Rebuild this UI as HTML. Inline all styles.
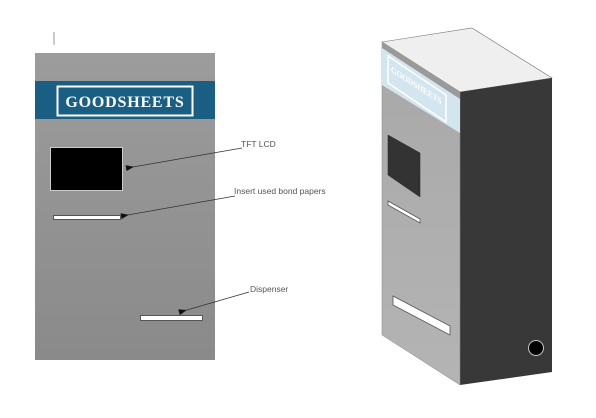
<!DOCTYPE html>
<html><head><meta charset="utf-8"><style>
html,body{margin:0;padding:0;background:#fff;width:596px;height:418px;overflow:hidden}
svg{display:block}
</style></head><body>
<svg width="596" height="418" viewBox="0 0 596 418" xmlns="http://www.w3.org/2000/svg">
<defs>
<linearGradient id="pg" x1="0" y1="0" x2="0" y2="1">
<stop offset="0" stop-color="#9c9c9c"/><stop offset="1" stop-color="#8a8a8a"/></linearGradient>
<linearGradient id="fg" x1="0" y1="0" x2="0" y2="1">
<stop offset="0" stop-color="#a8a8a8"/><stop offset="1" stop-color="#b4b4b4"/></linearGradient>
<marker id="ah" markerWidth="8" markerHeight="6" refX="7" refY="3" orient="auto-start-reverse" markerUnits="userSpaceOnUse">
<path d="M8,0 L0,3 L8,6 z" fill="#111"/></marker>
</defs>
<line x1="54" y1="32" x2="54" y2="45" stroke="#999" stroke-width="1"/>
<rect x="35" y="53" width="180" height="307" fill="url(#pg)"/>
<rect x="35" y="81" width="180" height="38" fill="#1b5e84"/>
<rect x="57.5" y="86.5" width="135" height="29" fill="none" stroke="#fff" stroke-width="2"/>
<text x="125" y="107" text-anchor="middle" font-family="Liberation Serif, serif" font-weight="bold" font-size="16" fill="#fff" letter-spacing="0.8">GOODSHEETS</text>
<rect x="50.5" y="147.5" width="72" height="43" fill="#000" stroke="#ccc" stroke-width="1"/>
<rect x="53.5" y="215.5" width="67" height="4" fill="#fff" stroke="#555" stroke-width="1"/>
<rect x="140.5" y="315.5" width="62" height="5" fill="#fff" stroke="#555" stroke-width="1"/>
<g stroke="#333" stroke-width="0.8" fill="none">
<line x1="242" y1="148" x2="127" y2="168" marker-end="url(#ah)"/>
<line x1="235" y1="196" x2="122" y2="216" marker-end="url(#ah)"/>
<line x1="249" y1="292" x2="180" y2="312" marker-end="url(#ah)"/>
</g>
<g font-family="Liberation Sans, sans-serif" font-size="8.5" fill="#555">
<text x="241" y="147">TFT LCD</text>
<text x="234" y="194">Insert used bond papers</text>
<text x="250" y="292">Dispenser</text>
</g>
<polygon points="382,42 472,28 552,78 460,92" fill="#efefef" stroke="#777" stroke-width="0.6"/>
<polygon points="460,92 552,78 552,372 460,385" fill="#383838"/>
<polygon points="382,42 460,92 460,385 382,335" fill="url(#fg)" stroke="#888" stroke-width="0.5"/>
<polygon points="382,42 460,92 460,99 382,48" fill="#9a9a9a"/>
<polygon points="382,48 460,99 460,133 382,85" fill="#d3e6f0"/>
<polygon points="388,56 446,95 446,122 388,83" fill="none" stroke="#fff" stroke-width="1.5"/>
<text transform="matrix(0.87,0.56,0,1,391,72)" font-family="Liberation Serif, serif" font-weight="bold" font-size="9" fill="#fff" textLength="58" lengthAdjust="spacingAndGlyphs">GOODSHEETS</text>
<polygon points="388,135 420,153 420,197 388,175" fill="#333" stroke="#222" stroke-width="0.5"/>
<polygon points="388,201 420,219 420,223 388,205" fill="#fff" stroke="#555" stroke-width="0.8"/>
<polygon points="393,296 450,326 450,335 393,305" fill="#fff" stroke="#555" stroke-width="0.8"/>
<circle cx="536" cy="348" r="7.5" fill="#000" stroke="#ccc" stroke-width="1"/>
</svg>
</body></html>
